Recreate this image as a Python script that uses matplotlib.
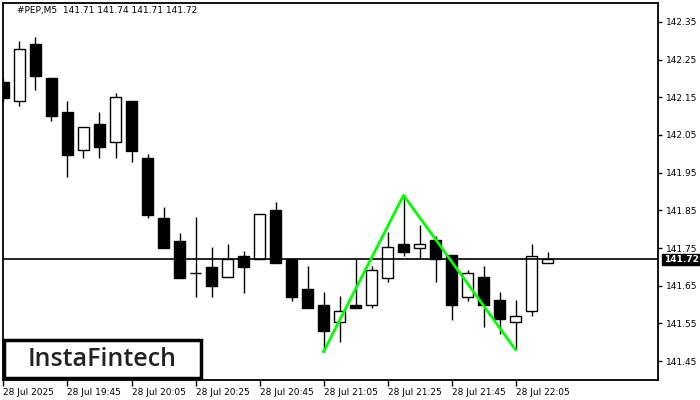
"""Candlestick chart #PEP M5 with double-bottom pattern overlay."""
import matplotlib
matplotlib.use("Agg")
import matplotlib.pyplot as plt
from matplotlib.patches import Rectangle

# OHLC per bar (index 0 = 28 Jul 19:25, 5-minute bars)
opens  = [142.19, 142.14, 142.29, 142.20, 142.11, 142.01, 142.08, 142.03, 142.14, 141.99,
          141.83, 141.77, 141.683, 141.70, 141.672, 141.73, 141.721, 141.851, 141.721, 141.641,
          141.60, 141.553, 141.60, 141.60, 141.671, 141.761, 141.751, 141.771, 141.731, 141.621,
          141.673, 141.611, 141.553, 141.582, 141.71]
highs  = [142.20, 142.30, 142.31, 142.20, 142.14, 142.07, 142.11, 142.16, 142.14, 142.00,
          141.86, 141.79, 141.832, 141.753, 141.761, 141.742, 141.84, 141.872, 141.721, 141.702,
          141.633, 141.623, 141.721, 141.702, 141.792, 141.89, 141.811, 141.782, 141.731, 141.692,
          141.702, 141.633, 141.612, 141.76, 141.74]
lows   = [142.138, 142.128, 142.168, 142.088, 141.939, 141.99, 141.99, 141.99, 141.979, 141.83,
          141.751, 141.671, 141.621, 141.621, 141.672, 141.631, 141.721, 141.711, 141.61, 141.591,
          141.473, 141.501, 141.591, 141.591, 141.66, 141.73, 141.721, 141.66, 141.559, 141.61,
          141.541, 141.523, 141.483, 141.571, 141.71]
closes = [142.149, 142.277, 142.207, 142.099, 141.998, 142.07, 142.019, 142.15, 142.008, 141.838,
          141.751, 141.671, 141.683, 141.65, 141.721, 141.70, 141.84, 141.711, 141.621, 141.591,
          141.53, 141.582, 141.591, 141.692, 141.752, 141.74, 141.761, 141.721, 141.599, 141.683,
          141.599, 141.561, 141.571, 141.73, 141.72]

# double bottom outline (bar index, price)
pattern_x = [20, 25, 32]
pattern_y = [141.475, 141.89, 141.48]

last_price = 141.72
title = "#PEP,M5  141.71 141.74 141.71 141.72"

tick_idx = [0, 4, 8, 12, 16, 20, 24, 28, 32]
tick_labels = ["28 Jul 2025", "28 Jul 19:45", "28 Jul 20:05", "28 Jul 20:25",
               "28 Jul 20:45", "28 Jul 21:05", "28 Jul 21:25", "28 Jul 21:45",
               "28 Jul 22:05"]
price_ticks = [141.45, 141.55, 141.65, 141.75, 141.85, 141.95, 142.05, 142.15, 142.25, 142.35]

fig = plt.figure(figsize=(7, 4), dpi=100)
ax = fig.add_axes([3 / 700, 20 / 400, 655 / 700, 377 / 400])

body_w = 0.66
for i, (o, h, l, c) in enumerate(zip(opens, highs, lows, closes)):
    ax.vlines(i, l, h, color="black", lw=1, zorder=2)
    face = "white" if c >= o else "black"
    ax.add_patch(Rectangle((i - body_w / 2, min(o, c)), body_w, abs(c - o),
                           facecolor=face, edgecolor="black", lw=1, zorder=3))

ax.axhline(last_price, color="black", lw=1.2, zorder=4)
ax.plot(pattern_x, pattern_y, color="#00ff00", lw=2, zorder=5)

ax.set_xlim(-0.03, 40.9)
ax.set_ylim(141.40, 142.40)

ax.set_xticks(tick_idx)
ax.set_xticklabels(tick_labels, ha="left", fontsize=6.5)
ax.yaxis.tick_right()
ax.set_yticks(price_ticks)
ax.set_yticklabels([f"{p:.2f}" for p in price_ticks], fontsize=6.5)
ax.tick_params(axis="x", length=4, width=1, pad=2)
ax.tick_params(axis="y", length=3, width=1, pad=3)
for s in ax.spines.values():
    s.set_linewidth(1.3)

fig.text(17 / 700, 389 / 400, title, fontsize=6.5, va="center", ha="left")

# current price label on the right axis
ax.annotate(f"{last_price:.2f}", xy=(1.0, last_price), xycoords=("axes fraction", "data"),
            xytext=(4, 0), textcoords="offset points", fontsize=6.5, color="white",
            fontweight="bold", va="center", ha="left",
            bbox=dict(boxstyle="square,pad=0.15", fc="black", ec="black"))

# logo box
fig.patches.append(Rectangle((4 / 700, 22 / 400), 197 / 700, 38 / 400, transform=fig.transFigure,
                             fill=False, edgecolor="black", lw=2.5, zorder=10))
fig.text(102 / 700, 41 / 400, "InstaFintech", fontsize=18, color="#222222",
         family="Open Sans", fontweight="semibold", ha="center", va="center", zorder=11)

fig.savefig("out.png", dpi=100)
